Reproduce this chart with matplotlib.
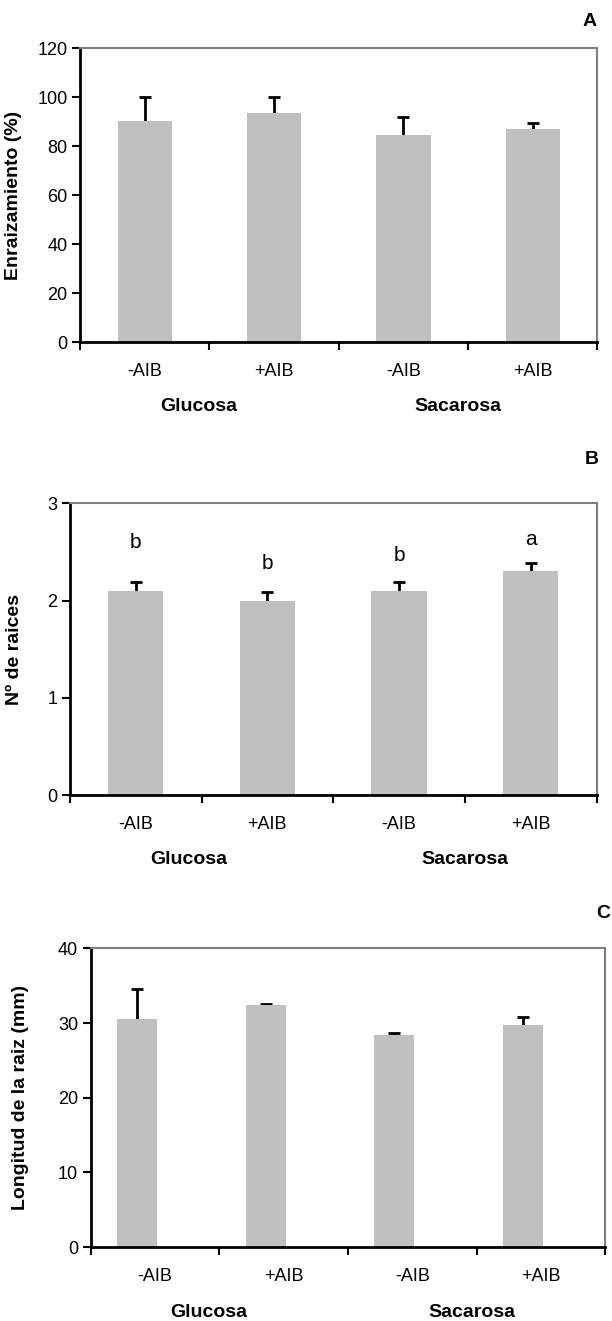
import numpy as np
import matplotlib
matplotlib.use("Agg")
import matplotlib.pyplot as plt

plt.rcParams['font.family'] = ['Liberation Sans', 'DejaVu Sans']

# data
tratamientos = ["-AIB", "+AIB", "-AIB", "+AIB"]
grupos = ["Glucosa", "Sacarosa"]

enraiz = [90.3, 93.6, 84.6, 87.1]
enraiz_err = [9.7, 6.3, 7.4, 2.4]

n_raices = [2.1, 2.0, 2.1, 2.3]
n_raices_err = [0.09, 0.09, 0.09, 0.09]
letras = ["b", "b", "b", "a"]
letras_y = [2.6, 2.38, 2.46, 2.63]

longitud = [30.5, 32.4, 28.4, 29.7]
longitud_err = [4.1, 0.15, 0.3, 1.1]

BAR = "#c0c0c0"
GREY = "#808080"

fig = plt.figure(figsize=(6.12, 13.21), dpi=100)

# [left, bottom, width, height] per panel, measured on the reference
rects = [
    [0.131, 0.741, 0.845, 0.2226],
    [0.114, 0.398, 0.861, 0.221],
    [0.148, 0.056, 0.841, 0.226],
]

def panel(rect, vals, errs, ymax, ystep, ylabel, letter, letter_xy,
          ylab_x, group_x, width=0.42, shift=0.0):
    ax = fig.add_axes(rect)
    x = np.arange(len(vals))
    ax.bar(x + shift, vals, width=width, color=BAR, zorder=2)
    # symmetric bars drawn behind the bars, so only the upper half shows (Excel look)
    ax.errorbar(x + shift, vals, yerr=errs, fmt="none",
                ecolor="black", elinewidth=2, capsize=4, capthick=2, zorder=1)
    ax.set_xlim(-0.5, len(vals) - 0.5)
    ax.set_ylim(0, ymax)
    ax.set_yticks(np.arange(0, ymax + ystep / 2, ystep))
    ax.set_xticks(np.arange(-0.5, len(vals)))
    ax.set_xticklabels([])
    ax.set_xticks(x, minor=True)
    ax.set_xticklabels(tratamientos, minor=True, fontsize=13)
    ax.tick_params(axis="x", which="minor", length=0, pad=15)
    ax.tick_params(axis="x", which="major", direction="out", length=6, width=1.5)
    ax.tick_params(axis="y", direction="out", length=6, width=1.5, labelsize=13, pad=3)
    for s in ["left", "bottom"]:
        ax.spines[s].set_color("black")
        ax.spines[s].set_linewidth(2)
    for s in ["top", "right"]:
        ax.spines[s].set_color(GREY)
        ax.spines[s].set_linewidth(1.5)
    ax.set_ylabel(ylabel, fontsize=14, fontweight="bold")
    ax.yaxis.set_label_coords(ylab_x, 0.5)
    for gx, g in zip(group_x, grupos):
        ax.text(gx, -0.22, g, transform=ax.get_xaxis_transform(), ha="center",
                va="center", fontsize=14, fontweight="bold")
    fig.text(letter_xy[0], letter_xy[1], letter, ha="center", va="center",
             fontsize=14, fontweight="bold")
    return ax

panel(rects[0], enraiz, enraiz_err, 120, 20, "Enraizamiento (%)", "A",
      (590 / 612, 1 - 22 / 1321), -0.112, [0.42, 2.42])

axb = panel(rects[1], n_raices, n_raices_err, 3, 1, "Nº de raices", "B",
            (592 / 612, 1 - 459 / 1321), -0.089, [0.4, 2.5])
for i, (l, ly) in enumerate(zip(letras, letras_y)):
    axb.text(i, ly, l, ha="center", va="center", fontsize=15)

panel(rects[2], longitud, longitud_err, 40, 10, "Longitud de la raiz (mm)", "C",
      (603 / 612, 1 - 913 / 1321), -0.12, [0.42, 2.46], width=0.31, shift=-0.14)

fig.savefig("out.png", dpi=100)
